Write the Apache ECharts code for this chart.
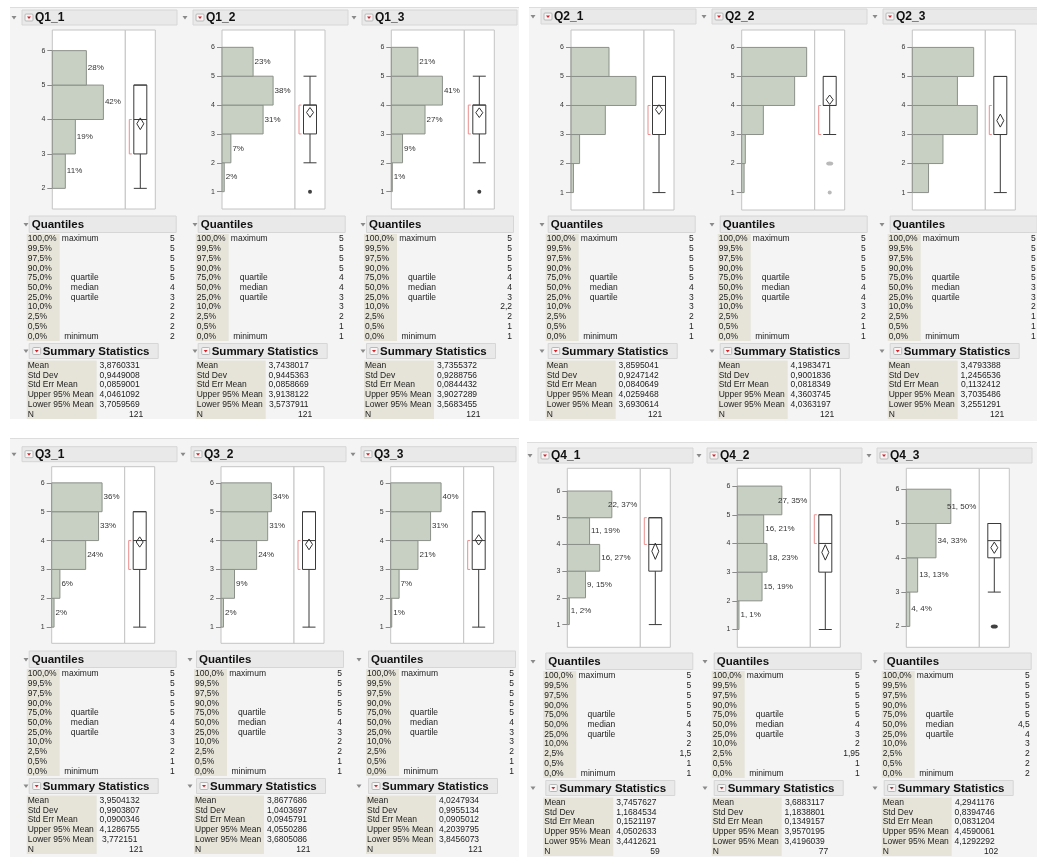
<!DOCTYPE html>
<html>
<head>
<meta charset="utf-8">
<script src="https://cdn.jsdelivr.net/npm/echarts@6/dist/echarts.min.js"></script>
<style>
html, body { margin: 0; padding: 0; background: #fff; }
#main { width: 1037px; height: 857px; }
</style>
</head>
<body>
<div id="main"></div>
<script>
// ---- data ----
var panelNames = ['Q1_1', 'Q1_2', 'Q1_3', 'Q2_1', 'Q2_2', 'Q2_3', 'Q3_1', 'Q3_2', 'Q3_3', 'Q4_1', 'Q4_2', 'Q4_3'];

// answer counts for the values 1..5
var countsQ1 = [[0, 13, 23, 51, 34], [2, 8, 37, 46, 28], [1, 11, 33, 50, 26]];
var countsQ2 = [[2, 7, 28, 53, 31], [2, 3, 18, 44, 54], [9, 17, 36, 25, 34]];
var countsQ3 = [[2, 7, 29, 40, 43], [2, 11, 29, 38, 41], [1, 8, 26, 38, 48]];
var countsQ4 = [[1, 9, 16, 11, 22], [1, 15, 18, 16, 27], [0, 4, 13, 34, 51]];

var quantileLevels = ['100,0%', '99,5%', '97,5%', '90,0%', '75,0%', '50,0%', '25,0%', '10,0%', '2,5%', '0,5%', '0,0%'];
var quantileNames = ['maximum', '', '', '', 'quartile', 'median', 'quartile', '', '', '', 'minimum'];

var quantQ1 = [['5', '5', '5', '5', '5', '4', '3', '2', '2', '2', '2'],
               ['5', '5', '5', '5', '4', '4', '3', '3', '2', '1', '1'],
               ['5', '5', '5', '5', '4', '4', '3', '2,2', '2', '1', '1']];
var quantQ2 = [['5', '5', '5', '5', '5', '4', '3', '3', '2', '1', '1'],
               ['5', '5', '5', '5', '5', '4', '4', '3', '2', '1', '1'],
               ['5', '5', '5', '5', '5', '3', '3', '2', '1', '1', '1']];
var quantQ3 = [['5', '5', '5', '5', '5', '4', '3', '3', '2', '1', '1'],
               ['5', '5', '5', '5', '5', '4', '3', '2', '2', '1', '1'],
               ['5', '5', '5', '5', '5', '4', '3', '3', '2', '1', '1']];
var quantQ4 = [['5', '5', '5', '5', '5', '4', '3', '2', '1,5', '1', '1'],
               ['5', '5', '5', '5', '5', '4', '3', '2', '1,95', '1', '1'],
               ['5', '5', '5', '5', '5', '4,5', '4', '3', '2', '2', '2']];

var statNames = ['Mean', 'Std Dev', 'Std Err Mean', 'Upper 95% Mean', 'Lower 95% Mean', 'N'];
var statsQ1 = [['3,8760331', '0,9449008', '0,0859001', '4,0461092', '3,7059569', '121'],
               ['3,7438017', '0,9445363', '0,0858669', '3,9138122', '3,5737911', '121'],
               ['3,7355372', '0,9288756', '0,0844432', '3,9027289', '3,5683455', '121']];
var statsQ2 = [['3,8595041', '0,9247142', '0,0840649', '4,0259468', '3,6930614', '121'],
               ['4,1983471', '0,9001836', '0,0818349', '4,3603745', '4,0363197', '121'],
               ['3,4793388', '1,2456536', '0,1132412', '3,7035486', '3,2551291', '121']];
var statsQ3 = [['3,9504132', '0,9903807', '0,0900346', '4,1286755', '3,772151', '121'],
               ['3,8677686', '1,0403697', '0,0945791', '4,0550286', '3,6805086', '121'],
               ['4,0247934', '0,9955134', '0,0905012', '4,2039795', '3,8456073', '121']];
var statsQ4 = [['3,7457627', '1,1684534', '0,1521197', '4,0502633', '3,4412621', '59'],
               ['3,6883117', '1,1838801', '0,1349157', '3,9570195', '3,4196039', '77'],
               ['4,2941176', '0,8394746', '0,0831204', '4,4590061', '4,1292292', '102']];

// shortest half (red bracket)
var shortestHalf = [[3, 4], [3, 4], [3, 4], [3, 4], [3, 4], [3, 4], [3, 4], [3, 4], [3, 4], [4, 5], [4, 5], null];

// ---- layout ----
var quadLayout = [
    { frameX: [52.3, 222, 391.3], headX: [14, 185, 354], tableX: [26.7, 195.7, 364], tableTri: [26, 195, 363], headY: 10, frameTop: 30, frameH: 179, tableDY: 0, frac: 0.70, labels: 'pct', outColor: '#111', bg: [10, 7, 509, 412] },
    { frameX: [571, 741.7, 912.3], headX: [533, 704, 875], tableX: [545.7, 717.7, 887.7], tableTri: [542, 712, 882], headY: 9, frameTop: 30, frameH: 180, tableDY: 0, frac: 0.89, labels: null, outColor: '#a8a8a8', bg: [529, 7, 508, 414] },
    { frameX: [51.7, 221, 390.7], headX: [14, 183, 353], tableX: [26.7, 194, 366], tableTri: [26, 190, 359], headY: 446.7, frameTop: 466.7, frameH: 176.6, tableDY: 435, frac: 0.69, labels: 'pct', outColor: '#111', bg: [10, 438, 509, 419] },
    { frameX: [567.3, 737.3, 906.3], headX: [530, 699, 869], tableX: [543.3, 711.7, 881.7], tableTri: [533, 705, 875], headY: 448, frameTop: 468.3, frameH: 179, tableDY: 437, frac: 0.61, labels: 'count', outColor: '#111', bg: [527, 442, 510, 415] }
];
var yPad = [0.6, 0.6, 0.6, 0.6, 0.6, 0.6, 0.56, 0.56, 0.56, 0.85, 0.62, 0.61];

var FONT = '"Liberation Sans", Arial, sans-serif';
var BAR_FILL = '#c7d0c3', BAR_LINE = '#8b9089', LABEL_BG = '#e6e4d9';
var ROW_FONT = '8.5px ' + FONT;

var measureCtx = document.createElement('canvas').getContext('2d');
function textW(s, size) {
    measureCtx.font = size + 'px ' + FONT;
    return measureCtx.measureText(s).width;
}
function num(s) { return parseFloat(String(s).replace(',', '.')); }

function txt(x, y, s, font, align, color) {
    return {
        type: 'text', x: x, y: y, silent: true,
        style: { text: s, font: font, fill: color || '#222', textAlign: align || 'left', textVerticalAlign: 'middle' }
    };
}
function tri(x, y) {
    return { type: 'polygon', silent: true, shape: { points: [[x - 2.5, y - 1.5], [x + 2.5, y - 1.5], [x, y + 2]] }, style: { fill: '#8a8a8a' } };
}
function redIcon(x, y) {
    return [
        { type: 'rect', silent: true, shape: { x: x, y: y - 3.5, width: 8, height: 7, r: 1 }, style: { fill: '#f6f6f6', stroke: '#b8b8b8', lineWidth: 1 } },
        { type: 'polygon', silent: true, shape: { points: [[x + 2, y - 1], [x + 6, y - 1], [x + 4, y + 1.5]] }, style: { fill: '#d8232a' } }
    ];
}

// whiskers / outliers from the counts and the quartiles
function boxStats(counts, quant) {
    var q3 = num(quant[4]), med = num(quant[5]), q1 = num(quant[6]);
    var iqr = q3 - q1, lf = q1 - 1.5 * iqr, uf = q3 + 1.5 * iqr;
    var lo = null, hi = null, out = [];
    counts.forEach(function (c, i) {
        var v = i + 1;
        if (!c) return;
        if (v < lf || v > uf) out.push([v, c]);
        else { if (lo === null) lo = v; hi = v; }
    });
    return { box: [lo, q1, med, q3, hi], out: out };
}

var allCounts = countsQ1.concat(countsQ2, countsQ3, countsQ4);
var allQuant = quantQ1.concat(quantQ2, quantQ3, quantQ4);
var allStats = statsQ1.concat(statsQ2, statsQ3, statsQ4);

var grids = [], xAxes = [], yAxes = [], series = [], elements = [];

quadLayout.forEach(function (L, qd) {
    elements.push({ type: 'rect', silent: true, z: -100, shape: { x: L.bg[0], y: L.bg[1], width: L.bg[2], height: L.bg[3] }, style: { fill: '#f4f4f4' } });
    elements.push({ type: 'line', silent: true, z: -99, shape: { x1: L.bg[0], y1: L.bg[1] + 0.5, x2: L.bg[0] + L.bg[2], y2: L.bg[1] + 0.5 }, style: { stroke: '#dddddd', lineWidth: 1 } });

    for (var col = 0; col < 3; col++) {
        var p = qd * 3 + col;
        var counts = allCounts[p];
        var quant = allQuant[p];
        var stats = allStats[p];
        var N = counts.reduce(function (a, b) { return a + b; }, 0);
        var maxC = Math.max.apply(null, counts);
        var lo = counts.findIndex(function (c) { return c > 0; }) + 1;
        var ticks = [];
        for (var t = lo; t <= 6; t++) ticks.push(t);
        var pad = yPad[p];
        var fx = L.frameX[col];
        var gi = p * 2;

        // --- panel header ---
        var hx = L.headX[col], hy = L.headY;
        elements.push(tri(hx, hy + 7.5));
        elements.push({ type: 'rect', silent: true, shape: { x: hx + 8, y: hy, width: 155, height: 15 }, style: { fill: '#e9e9e9', stroke: '#d6d6d6', lineWidth: 1 } });
        elements = elements.concat(redIcon(hx + 11, hy + 7.5));
        elements.push(txt(hx + 21, hy + 8, panelNames[p], 'bold 12px ' + FONT, 'left', '#111'));

        // --- histogram grid ---
        grids.push({ left: fx, top: L.frameTop, width: 73, height: L.frameH, show: true, backgroundColor: '#fff', borderColor: '#c4c4c4', borderWidth: 1 });
        xAxes.push({ gridIndex: gi, type: 'value', min: 0, max: maxC / L.frac, show: false });
        yAxes.push({
            gridIndex: gi, type: 'value', min: lo - pad, max: 6 + pad,
            axisLine: { show: false }, splitLine: { show: false },
            axisTick: { show: true, length: 5, lineStyle: { color: '#8a8a8a' }, customValues: ticks },
            axisLabel: { show: true, fontSize: 7, color: '#333', margin: 7, fontFamily: FONT, customValues: ticks }
        });
        (function (counts, N, mode) {
            series.push({
                type: 'custom', xAxisIndex: gi, yAxisIndex: gi, silent: true,
                data: counts.map(function (c, i) { return [i + 1, c]; }).filter(function (d) { return d[1] > 0; }),
                renderItem: function (params, api) {
                    var v = api.value(0), c = api.value(1);
                    var a = api.coord([0, v + 1]), b = api.coord([c, v]);
                    var kids = [{
                        type: 'rect',
                        shape: { x: a[0], y: a[1], width: b[0] - a[0], height: b[1] - a[1] },
                        style: { fill: BAR_FILL, stroke: BAR_LINE, lineWidth: 1 }
                    }];
                    if (mode) {
                        var pct = Math.round(c / N * 100) + '%';
                        var s = mode === 'count' ? c + ', ' + pct : pct;
                        var right = params.coordSys.x + params.coordSys.width - 3;
                        var tx = Math.min(b[0] + 1.5, right - textW(s, 8));
                        kids.push({ type: 'text', x: tx, y: (a[1] + b[1]) / 2, style: { text: s, font: '8px ' + FONT, fill: '#333', textAlign: 'left', textVerticalAlign: 'middle' } });
                    }
                    return { type: 'group', children: kids };
                }
            });
        })(counts, N, L.labels);

        // --- box plot grid ---
        var bs = boxStats(counts, quant);
        grids.push({ left: fx + 73, top: L.frameTop, width: 30, height: L.frameH, show: true, backgroundColor: '#fff', borderColor: '#c4c4c4', borderWidth: 1 });
        xAxes.push({ gridIndex: gi + 1, type: 'category', data: ['x'], show: false });
        yAxes.push({ gridIndex: gi + 1, type: 'value', min: lo - pad, max: 6 + pad, show: false });
        series.push({
            type: 'boxplot', xAxisIndex: gi + 1, yAxisIndex: gi + 1, silent: true,
            data: [bs.box], boxWidth: [13, 13],
            itemStyle: { color: '#fff', borderColor: '#3a3a3a', borderWidth: 1 }
        });
        if (bs.out.length) {
            (function (out) {
                series.push({
                    type: 'scatter', xAxisIndex: gi + 1, yAxisIndex: gi + 1, silent: true,
                    data: out.map(function (o) { return [0, o[0]]; }),
                    symbol: 'circle',
                    symbolSize: function (val, params) { return out[params.dataIndex][1] >= 3 ? [7, 4] : [4, 4]; },
                    itemStyle: { color: L.outColor }
                });
            })(bs.out);
        }
        (function (sh) {
            series.push({
                type: 'custom', xAxisIndex: gi + 1, yAxisIndex: gi + 1, silent: true, z: 5,
                data: [[0, num(stats[0]), num(stats[4]), num(stats[3])]],
                renderItem: function (params, api) {
                    var m = api.coord([0, api.value(1)]);
                    var yl = api.coord([0, api.value(2)])[1], yu = api.coord([0, api.value(3)])[1];
                    var cx = m[0];
                    var kids = [{
                        type: 'polygon',
                        shape: { points: [[cx, yu], [cx + 3.5, m[1]], [cx, yl], [cx - 3.5, m[1]]] },
                        style: { fill: 'transparent', stroke: '#333', lineWidth: 1 }
                    }];
                    if (sh) {
                        var x = cx - 11;
                        var y1 = api.coord([0, sh[1]])[1], y2 = api.coord([0, sh[0]])[1];
                        kids.push({
                            type: 'polyline',
                            shape: { points: [[x + 2.5, y1], [x, y1], [x, y2], [x + 2.5, y2]] },
                            style: { fill: null, stroke: '#ee8c8c', lineWidth: 1 }
                        });
                    }
                    return { type: 'group', children: kids };
                }
            });
        })(shortestHalf[p]);

        // --- Quantiles table ---
        var tx0 = L.tableX[col], tt = L.tableTri[col], dy = L.tableDY;
        elements.push(tri(tt, dy + 224.5));
        elements.push({ type: 'rect', silent: true, shape: { x: tx0 + 2.5, y: dy + 216, width: 147, height: 16.5 }, style: { fill: '#e9e9e9', stroke: '#d6d6d6', lineWidth: 1 } });
        elements.push(txt(tx0 + 5, dy + 225, 'Quantiles', 'bold 11.5px ' + FONT, 'left', '#111'));
        elements.push({ type: 'rect', silent: true, shape: { x: tx0, y: dy + 234, width: 33, height: 107 }, style: { fill: LABEL_BG } });
        quantileLevels.forEach(function (lv, i) {
            var ry = dy + 239 + i * 9.72;
            elements.push(txt(tx0 + 1, ry, lv, ROW_FONT));
            if (quantileNames[i]) elements.push(txt(tx0 + 72, ry, quantileNames[i], ROW_FONT, 'right'));
            elements.push(txt(tx0 + 148, ry, quant[i], ROW_FONT, 'right'));
        });

        // --- Summary Statistics table ---
        elements.push(tri(tt, dy + 351));
        elements.push({ type: 'rect', silent: true, shape: { x: tx0 + 2.5, y: dy + 343.5, width: 129, height: 15 }, style: { fill: '#e9e9e9', stroke: '#d6d6d6', lineWidth: 1 } });
        elements = elements.concat(redIcon(tx0 + 6, dy + 351));
        elements.push(txt(tx0 + 16, dy + 351.5, 'Summary Statistics', 'bold 11.5px ' + FONT, 'left', '#111'));
        elements.push({ type: 'rect', silent: true, shape: { x: tx0, y: dy + 360.5, width: 70, height: 58.5 }, style: { fill: LABEL_BG } });
        statNames.forEach(function (nm, i) {
            var ry = dy + 365.7 + i * 9.7;
            elements.push(txt(tx0 + 1, ry, nm, ROW_FONT));
            if (i < 5) elements.push(txt(tx0 + 93, ry, stats[i], ROW_FONT, 'center'));
            else elements.push(txt(tx0 + 116.5, ry, stats[i], ROW_FONT, 'right'));
        });
    }
});

var chart = echarts.init(document.getElementById('main'));
chart.setOption({
    animation: false,
    textStyle: { fontFamily: FONT },
    grid: grids,
    xAxis: xAxes,
    yAxis: yAxes,
    series: series,
    graphic: { elements: elements }
});
window.addEventListener('resize', function () { chart.resize(); });
</script>
</body>
</html>
